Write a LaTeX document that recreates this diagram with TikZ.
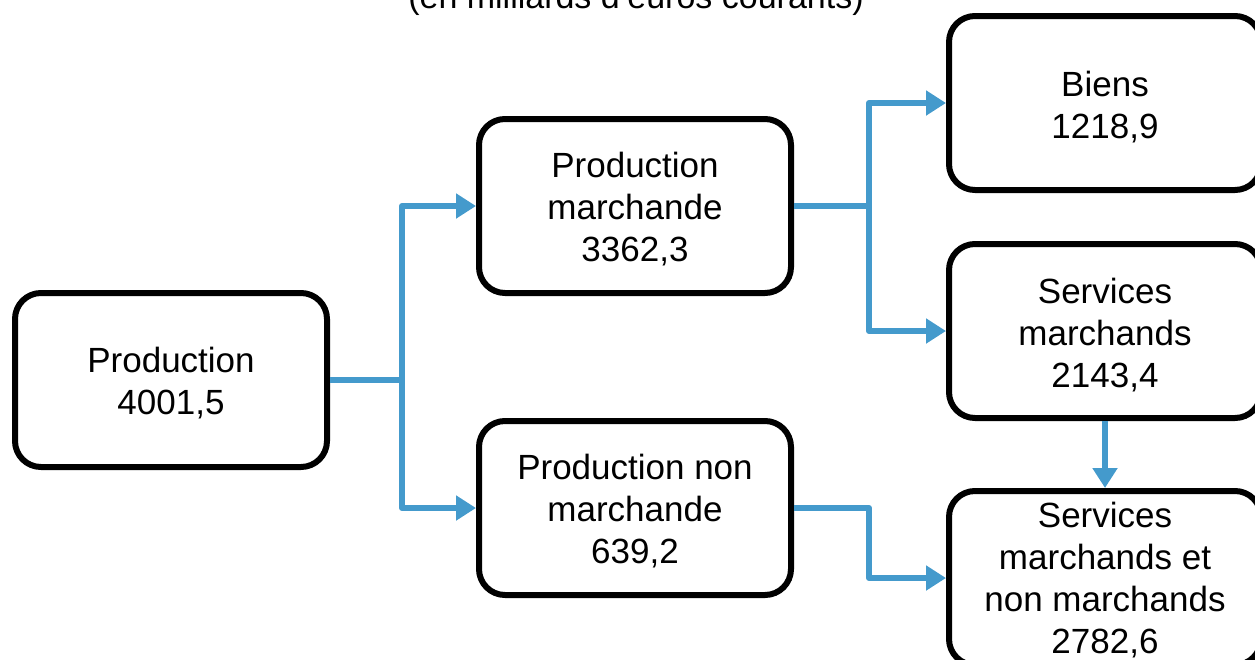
\documentclass[tikz,border=0pt]{standalone}
\usepackage{fontspec}
\setmainfont{Liberation Sans}
\usetikzlibrary{arrows.meta}
\definecolor{flow}{RGB}{68,154,204}
\begin{document}
\begin{tikzpicture}[x=1pt,y=-1pt,
  box/.style={draw=black, line width=6pt, rounded corners=26pt, fill=white,
    minimum width=312pt, minimum height=174pt, inner sep=0pt},
  txt/.style={align=center, inner sep=0pt, font=\fontsize{35}{42}\selectfont},
  flowline/.style={draw=flow, line width=6pt, line join=round},
  flowarrow/.style={flowline, -{Triangle[length=20pt,width=24pt]}}]
\useasboundingbox (0,0) rectangle (1255,659);
\node[anchor=base, font=\fontsize{34}{40}\selectfont] (title) at (636,8) {(en milliards d'euros courants)};
\node[box] (prod) at (171,380) {};
\node[box] (pm) at (635,206) {};
\node[box] (pnm) at (635,508) {};
\node[box] (biens) at (1105,103) {};
\node[box] (sm) at (1105,331) {};
\node[box] (smnm) at (1105,578) {};
\node[txt] (prodT) at ([yshift=-3.5pt]prod.center) {Production\\4001,5};
\node[txt] (pmT) at ([yshift=-3.5pt]pm.center) {Production\\marchande\\3362,3};
\node[txt] (pnmT) at ([yshift=-3.5pt]pnm.center) {Production non\\marchande\\639,2};
\node[txt] (biensT) at ([yshift=-4pt]biens.center) {Biens\\1218,9};
\node[txt] (smT) at ([yshift=-4pt]sm.center) {Services\\marchands\\2143,4};
\node[txt] (smnmT) at ([yshift=-2pt]smnm.center) {Services\\marchands et\\non marchands\\2782,6};
\coordinate (j1) at (402,380);
\coordinate (j2) at (869,206);
\draw[flowline] (prod.east) -- (j1);
\draw[flowarrow] (j1) |- (pm.west);
\draw[flowarrow] (j1) |- (pnm.west);
\draw[flowline] (pm.east) -- (j2);
\draw[flowarrow] (j2) |- (biens.west);
\draw[flowarrow] (j2) |- (sm.west);
\draw[flowarrow] (pnm.east) -- (pnm.east -| j2) |- (smnm.west);
\draw[flowarrow] (sm.south) -- (smnm.north);
\end{tikzpicture}
\end{document}
